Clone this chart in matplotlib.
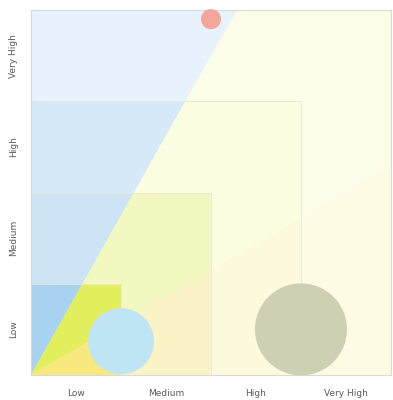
import matplotlib
matplotlib.use("Agg")
import matplotlib.pyplot as plt
from matplotlib.patches import Polygon, Rectangle

# Axis categories
categories = ["Low", "Medium", "High", "Very High"]

# Nested zones (square extent from the origin) and the colours of the three wedges in each
zone_extent = [4, 3, 2, 1]
upper_colors = ["#e7f2fc", "#d6e9f8", "#cde4f6", "#a8d2f1"]
middle_colors = ["#fcfde8", "#fafde0", "#f2f8bf", "#e3ee5c"]
lower_colors = ["#fdfbe4", "#fcf9dc", "#faf3c6", "#f7e97e"]
wedge_slope = 1.75

# Bubbles
bubble_x = [2.0, 1.0, 3.0]
bubble_y = [3.9, 0.37, 0.5]
bubble_size = [210, 2260, 4390]
bubble_colors = ["#f4a59c", "#bfe5f4", "#cdd0b2"]

fig = plt.figure(figsize=(3.93, 4.0), dpi=100)
ax = fig.add_axes([31 / 393, 25 / 400, 360 / 393, 365 / 400])
n = len(categories)
ax.set_xlim(0, n)
ax.set_ylim(0, n)

for ext, cu, cm, cl in zip(zone_extent, upper_colors, middle_colors, lower_colors):
    clip = Rectangle((0, 0), ext, ext, transform=ax.transData)
    top_x = n / wedge_slope
    wedges = [
        ([(0, 0), (0, n), (top_x, n)], cu),
        ([(0, 0), (top_x, n), (n, n), (n, top_x)], cm),
        ([(0, 0), (n, top_x), (n, 0)], cl),
    ]
    for pts, col in wedges:
        p = Polygon(pts, closed=True, facecolor=col, edgecolor="none", zorder=1)
        ax.add_patch(p)
        p.set_clip_path(clip)
    if ext < n:
        ax.add_patch(Rectangle((0, 0), ext, ext, facecolor="none",
                               edgecolor="#e8e8dc", linewidth=0.6, zorder=2))

ax.scatter(bubble_x, bubble_y, s=bubble_size, c=bubble_colors,
           edgecolors="none", zorder=3, clip_on=False)

ticks = [i + 0.5 for i in range(n)]
ax.set_xticks(ticks)
ax.set_xticklabels(categories)
ax.set_yticks(ticks)
ax.set_yticklabels(categories, rotation=90, va="center")
ax.tick_params(length=0, labelsize=6.5, labelcolor="#595959", pad=10)
ax.tick_params(axis="y", pad=9)
for s in ax.spines.values():
    s.set_color("#d9d9d9")
    s.set_linewidth(0.8)

fig.savefig("out.png", dpi=100)
